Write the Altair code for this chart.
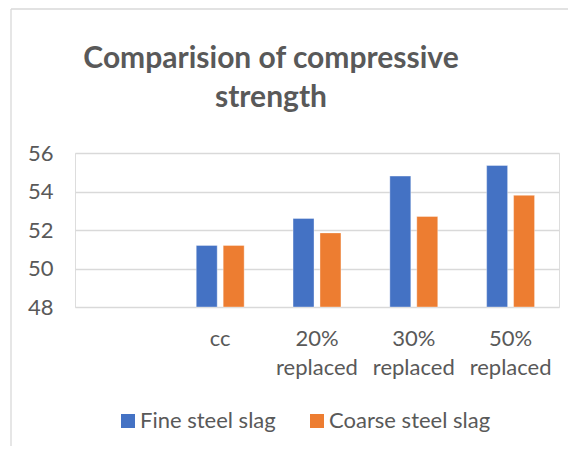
import altair as alt
import pandas as pd

categories = ["", "cc", "20% replaced", "30% replaced", "50% replaced"]
fine_steel_slag = [None, 51.2, 52.6, 54.8, 55.35]
coarse_steel_slag = [None, 51.2, 51.85, 52.7, 53.8]
series = ["Fine steel slag", "Coarse steel slag"]
y_ticks = [48, 50, 52, 54, 56]
colors = ["#4472C4", "#ED7D31"]
title_lines = ["Comparision of compressive", "strength"]

rows = []
for c, f, k in zip(categories, fine_steel_slag, coarse_steel_slag):
    rows.append({"category": c, "series": series[0], "value": f})
    rows.append({"category": c, "series": series[1], "value": k})
df = pd.DataFrame(rows)

FONT = "Lato"
GREY = "#595959"
FRAME = "#d9d9d9"

bars = alt.Chart(df).mark_bar(stroke="white", strokeWidth=0.6, strokeOpacity=0.6).encode(
    x=alt.X("category:N", sort=categories,
            scale=alt.Scale(domain=categories, paddingInner=0, paddingOuter=0),
            axis=alt.Axis(title=None, labelAngle=0, domain=False, ticks=False,
                          labelExpr="split(datum.label, ' ')",
                          labelFontSize=22, labelColor=GREY, labelFont=FONT,
                          labelPadding=21, labelLineHeight=29, labelBaseline="top")),
    xOffset=alt.XOffset("series:N", sort=series,
                        scale=alt.Scale(domain=series, paddingInner=0.222, paddingOuter=0.907)),
    y=alt.Y("value:Q",
            scale=alt.Scale(domain=[48, 56], zero=False, nice=False),
            axis=alt.Axis(title=None, values=y_ticks, domain=False, ticks=False,
                          labelFontSize=22, labelColor=GREY, labelFont=FONT, labelPadding=22,
                          gridColor=FRAME, gridWidth=1.3)),
    y2=alt.datum(48),
    color=alt.Color("series:N", sort=series,
                    scale=alt.Scale(domain=series, range=colors),
                    legend=alt.Legend(title=None, orient="none", legendX=42, legendY=257,
                                      direction="horizontal", symbolType="square",
                                      symbolSize=196, symbolStrokeWidth=0,
                                      labelFontSize=22, labelColor=GREY, labelFont=FONT,
                                      labelOffset=1, columnPadding=30, labelLimit=400)),
)

one = pd.DataFrame({"a": [0]})

frame_left = alt.Chart(one).mark_rule(color=FRAME, strokeWidth=1.3, clip=False).encode(
    x=alt.value(-64), y=alt.value(-144), y2=alt.value(300)
)
frame_top = alt.Chart(one).mark_rule(color=FRAME, strokeWidth=1.3, clip=False).encode(
    x=alt.value(-64), x2=alt.value(500), y=alt.value(-144)
)

title = alt.Chart(one).mark_text(
    text=title_lines, font=FONT, fontSize=30, fontWeight="bold", color=GREY,
    align="center", baseline="alphabetic", lineHeight=39, clip=False
).encode(x=alt.value(196), y=alt.value(-85))

chart = alt.layer(frame_left, frame_top, bars, title).properties(
    width=484,
    height=154,
    padding={"left": 67, "top": 145, "right": 9, "bottom": 139},
    autosize=alt.AutoSizeParams(type="none"),
).configure_view(stroke=None).configure(background="white")

chart.save("out.html", embed_options={"renderer": "svg", "actions": False})
